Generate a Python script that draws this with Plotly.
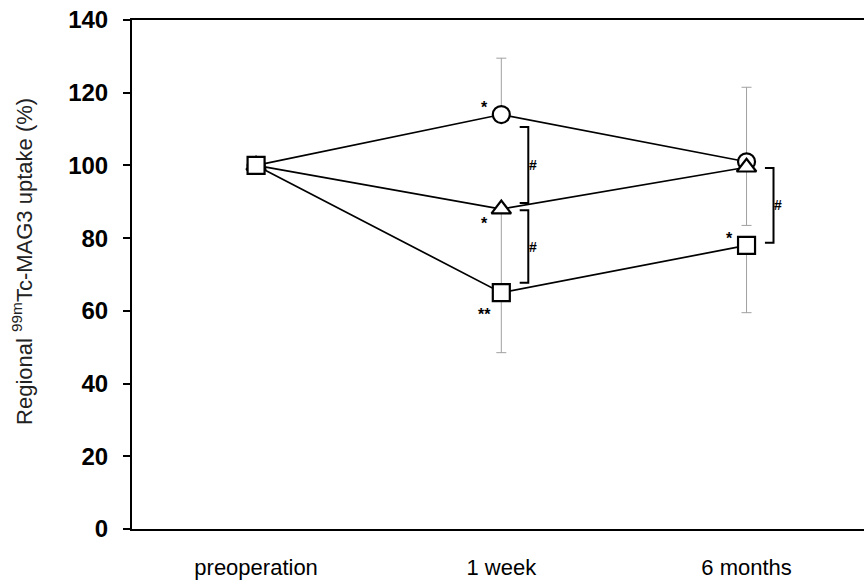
import plotly.graph_objects as go

# ---- data ----
categories = ["preoperation", "1 week", "6 months"]
circle_vals = [100, 114, 101]
triangle_vals = [100, 88, 99.5]
square_vals = [100, 65, 78]
circle_err_up = [0, 15.5, 20.5]
triangle_err_down = [0, 21, 16]
square_err_down = [0, 16.5, 18.5]
y_ticks = [0, 20, 40, 60, 80, 100, 120, 140]

# significance marks
star_labels = ["*", "*", "**", "*"]
star_cat = [1, 1, 1, 2]
star_y = [116.0, 84.0, 59.0, 80.0]
bracket_cat = [1, 1, 2]
bracket_low = [89.7, 67.7, 78.7]
bracket_high = [110.6, 87.7, 99.3]
bracket_label = ["#", "#", "#"]

xs = list(range(len(categories)))
FONT = "Liberation Sans, Arial, sans-serif"
zeros = [0] * len(xs)


def series(vals, symbol, up, down):
    return go.Scatter(
        x=xs, y=vals, mode="lines+markers",
        line=dict(color="black", width=1.7),
        marker=dict(symbol=symbol, size=17, color="white",
                    line=dict(color="black", width=2.2)),
        error_y=dict(type="data", symmetric=False, array=up, arrayminus=down,
                     color="#a0a0a0", thickness=1, width=5),
        showlegend=False, hoverinfo="skip",
    )


fig = go.Figure()
fig.add_trace(series(circle_vals, "circle", circle_err_up, zeros))
fig.add_trace(series(triangle_vals, "triangle-up", zeros, triangle_err_down))
fig.add_trace(series(square_vals, "square", zeros, square_err_down))

shapes = []
annotations = []
for c, lo, hi, lab in zip(bracket_cat, bracket_low, bracket_high, bracket_label):
    x0 = c + 0.075
    x1 = c + 0.11
    shapes.append(dict(type="path", xref="x", yref="y",
                       path=f"M {x0},{hi} L {x1},{hi} L {x1},{lo} L {x0},{lo}",
                       line=dict(color="black", width=2)))
    annotations.append(dict(x=c + 0.128, y=(lo + hi) / 2, xref="x", yref="y",
                            text=lab, showarrow=False,
                            font=dict(family=FONT, size=14, color="black", weight="bold")))
for lab, c, yv in zip(star_labels, star_cat, star_y):
    annotations.append(dict(x=c - 0.07, y=yv, xref="x", yref="y", text=lab,
                            showarrow=False,
                            font=dict(family=FONT, size=16, color="black", weight="bold")))

annotations.append(dict(x=-0.15, y=0.525, xref="paper", yref="paper",
                        text="Regional <sup>99m</sup>Tc-MAG3 uptake (%)",
                        textangle=-90, showarrow=False, xanchor="center", yanchor="middle",
                        font=dict(family=FONT, size=22, color="#222")))

fig.update_layout(
    width=864, height=586,
    margin=dict(l=132, r=0, t=20, b=57),
    paper_bgcolor="white", plot_bgcolor="white",
    shapes=shapes, annotations=annotations,
    xaxis=dict(range=[-0.506, 2.479], tickvals=xs, ticktext=categories,
               showline=True, linecolor="black", linewidth=2, mirror=True,
               ticks="outside", ticklen=18, tickcolor="rgba(0,0,0,0)",
               showgrid=False, zeroline=False, ticklabeloverflow="allow",
               tickfont=dict(family=FONT, size=22, color="black")),
    yaxis=dict(range=[0, 140], tickvals=y_ticks,
               showline=True, linecolor="black", linewidth=2,
               ticks="outside", ticklen=7, tickwidth=2, tickcolor="black",
               ticklabelstandoff=10,
               showgrid=False, zeroline=False, ticklabeloverflow="allow",
               tickfont=dict(family=FONT, size=24, color="black", weight="bold")),
)

fig.write_html("out.html", config={"displayModeBar": False},
               post_script="document.body.style.margin='0';")
